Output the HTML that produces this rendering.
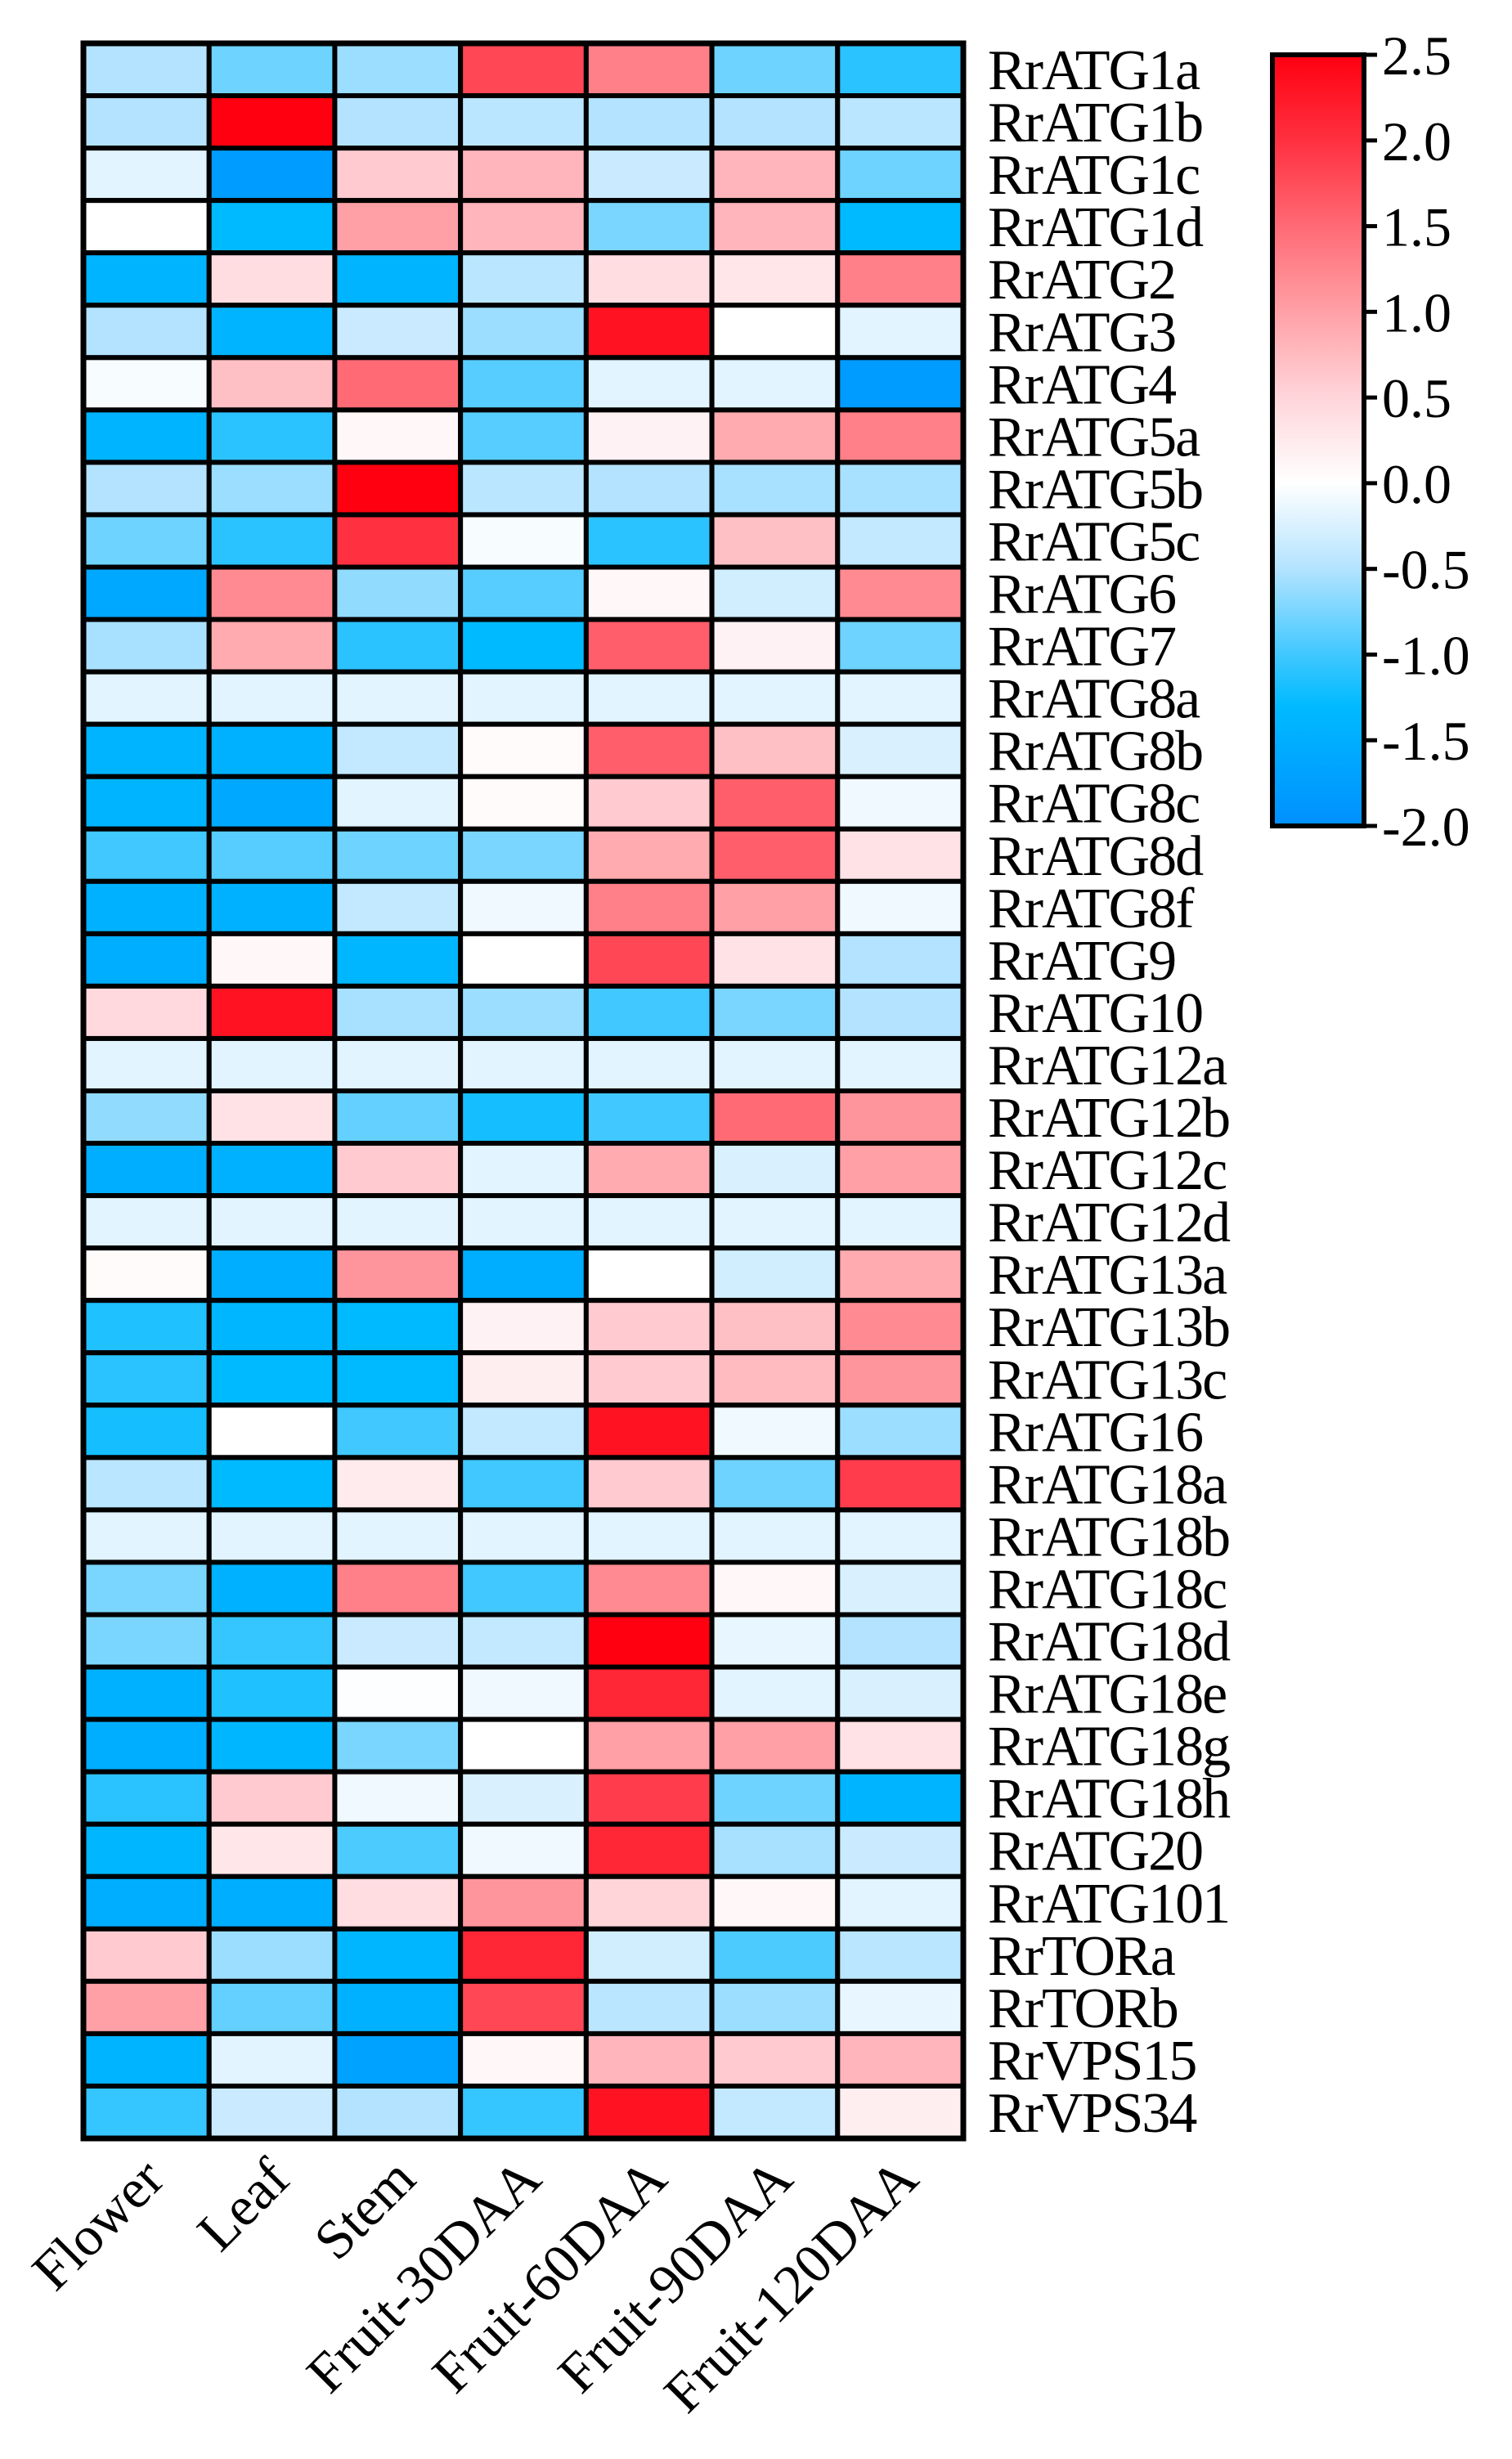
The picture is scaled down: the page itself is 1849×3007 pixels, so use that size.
<!DOCTYPE html>
<html><head><meta charset="utf-8"><style>
html,body{margin:0;padding:0;background:#fff;}
svg{display:block;font-family:"Liberation Serif",serif;}
</style></head><body>
<svg id="chart" width="1849" height="3007" viewBox="0 0 1849 3007" xmlns="http://www.w3.org/2000/svg">
<defs>
<linearGradient id="cbgrad" x1="0" y1="1" x2="0" y2="0"></linearGradient>
</defs>
<g id="cells"></g>
<g id="rowlabels"></g>
<g id="collabels"></g>
<g id="colorbar"></g>
</svg>
<script>
const genes = ["RrATG1a","RrATG1b","RrATG1c","RrATG1d","RrATG2","RrATG3","RrATG4","RrATG5a","RrATG5b","RrATG5c","RrATG6","RrATG7","RrATG8a","RrATG8b","RrATG8c","RrATG8d","RrATG8f","RrATG9","RrATG10","RrATG12a","RrATG12b","RrATG12c","RrATG12d","RrATG13a","RrATG13b","RrATG13c","RrATG16","RrATG18a","RrATG18b","RrATG18c","RrATG18d","RrATG18e","RrATG18g","RrATG18h","RrATG20","RrATG101","RrTORa","RrTORb","RrVPS15","RrVPS34"];
const tissues = ["Flower","Leaf","Stem","Fruit-30DAA","Fruit-60DAA","Fruit-90DAA","Fruit-120DAA"];
const values = [
[-0.5,-0.8,-0.6,1.8,1.3,-0.8,-1.1],
[-0.5,2.5,-0.5,-0.45,-0.5,-0.5,-0.45],
[-0.2,-1.8,0.6,0.8,-0.35,0.8,-0.8],
[0,-1.3,1.0,0.8,-0.75,0.8,-1.3],
[-1.4,0.4,-1.4,-0.45,0.4,0.3,1.3],
[-0.5,-1.4,-0.35,-0.6,2.3,0,-0.2],
[-0.05,0.7,1.5,-0.9,-0.2,-0.2,-1.8],
[-1.4,-1.1,0.1,-0.9,0.15,0.9,1.3],
[-0.5,-0.6,2.5,-0.45,-0.5,-0.55,-0.55],
[-0.8,-1.1,2.0,-0.05,-1.1,0.7,-0.4],
[-1.6,1.2,-0.65,-0.9,0.1,-0.3,1.2],
[-0.55,0.9,-1.1,-1.3,1.6,0.15,-0.8],
[-0.2,-0.2,-0.2,-0.2,-0.2,-0.2,-0.2],
[-1.4,-1.45,-0.4,0.05,1.6,0.7,-0.25],
[-1.4,-1.6,-0.2,0.05,0.6,1.6,-0.1],
[-1.0,-0.9,-0.8,-0.75,0.9,1.6,0.35],
[-1.45,-1.45,-0.4,-0.1,1.3,1.0,-0.1],
[-1.5,0.1,-1.35,0,1.8,0.35,-0.5],
[0.45,2.3,-0.55,-0.6,-1.0,-0.75,-0.5],
[-0.2,-0.2,-0.2,-0.2,-0.2,-0.2,-0.2],
[-0.65,0.35,-0.85,-1.2,-1.0,1.5,1.1],
[-1.5,-1.45,0.6,-0.2,0.9,-0.25,1.0],
[-0.2,-0.2,-0.2,-0.2,-0.2,-0.2,-0.2],
[0.05,-1.5,1.1,-1.5,0,-0.3,0.9],
[-1.15,-1.35,-1.3,0.15,0.6,0.7,1.2],
[-1.1,-1.3,-1.3,0.2,0.6,0.75,1.1],
[-1.2,0,-1.0,-0.4,2.3,-0.1,-0.6],
[-0.45,-1.3,0.25,-1.0,0.6,-0.8,1.9],
[-0.2,-0.2,-0.2,-0.2,-0.2,-0.2,-0.2],
[-0.75,-1.45,1.3,-1.0,1.2,0.1,-0.25],
[-0.75,-1.05,-0.35,-0.4,2.5,-0.15,-0.5],
[-1.45,-1.15,-0.02,-0.1,2.1,-0.2,-0.25],
[-1.5,-1.35,-0.75,0,1.0,1.0,0.35],
[-1.1,0.6,-0.1,-0.25,1.9,-0.8,-1.4],
[-1.35,0.3,-0.95,-0.1,2.1,-0.55,-0.35],
[-1.5,-1.5,0.4,1.1,0.5,0.1,-0.2],
[0.6,-0.6,-1.35,2.1,-0.3,-0.95,-0.45],
[1.0,-0.85,-1.45,1.8,-0.45,-0.6,-0.15],
[-1.4,-0.2,-1.7,0.1,0.8,0.6,0.8],
[-1.05,-0.35,-0.5,-1.05,2.3,-0.4,0.2]
];
const cbTicks = [2.5,2.0,1.5,1.0,0.5,0.0,-0.5,-1.0,-1.5,-2.0];
const colorStops = [[-2.0,[0,144,255]],[-1.3,[0,186,255]],[-1.0,[64,200,255]],[-0.5,[179,227,255]],[0,[255,255,255]],[0.5,[255,213,218]],[1.0,[255,160,166]],[1.5,[255,106,117]],[2.0,[255,48,64]],[2.5,[255,0,16]]];

const NS="http://www.w3.org/2000/svg";
const gx0=102,gx1=1178,gy0=53,gy1=2615;
const cw=(gx1-gx0)/tissues.length, rh=(gy1-gy0)/genes.length;
const xPos=i=>gx0+i*cw, yPos=j=>gy0+j*rh;
const cbTop=67,cbBot=1010,cbMax=2.5,cbMin=-2.0;
const cbY=v=>cbTop+(cbMax-v)/(cbMax-cbMin)*(cbBot-cbTop);
function color(v){
  v=Math.max(cbMin,Math.min(cbMax,v));
  for(let k=0;k<colorStops.length-1;k++){
    const [a,ca]=colorStops[k],[b,cb]=colorStops[k+1];
    if(v>=a&&v<=b){const t=(v-a)/(b-a);return "rgb("+ca.map((c,i)=>Math.round(c+(cb[i]-c)*t)).join(",")+")";}
  }
  return "#fff";
}
function mk(tag,attrs,parent){const e=document.createElementNS(NS,tag);for(const k in attrs)e.setAttribute(k,attrs[k]);parent.appendChild(e);return e;}
const cells=document.getElementById('cells');
values.forEach((row,j)=>row.forEach((v,i)=>{
  const r=mk('rect',{x:xPos(i),y:yPos(j),width:cw,height:rh,fill:color(v),stroke:'#000','stroke-width':6},cells);
  
  
}));
mk('rect',{x:gx0,y:gy0,width:gx1-gx0,height:gy1-gy0,fill:'none',stroke:'#000','stroke-width':7},cells);
const rl=document.getElementById('rowlabels');
genes.forEach((g,j)=>{
  const t=mk('text',{x:1208,y:yPos(j)+rh/2+24,'font-size':70,fill:'#000',transform:'',style:'letter-spacing:-2px'},rl);
  t.textContent=g;
  
  
});
const cl=document.getElementById('collabels');
tissues.forEach((c,i)=>{
  const x=xPos(i)+cw/2+25, y=2668;
  const t=mk('text',{x:x,y:y,'font-size':68,'text-anchor':'end',fill:'#000',transform:'rotate(-45 '+x+' '+y+')'},cl);
  t.textContent=c;
  
  
});
const grad=document.getElementById('cbgrad');
colorStops.forEach(([v,c])=>{mk('stop',{offset:((v-cbMin)/(cbMax-cbMin)),'stop-color':'rgb('+c.join(',')+')'},grad);});
const cbg=document.getElementById('colorbar');
const cbr=mk('rect',{x:1556,y:cbTop,width:112,height:cbBot-cbTop,fill:'url(#cbgrad)',stroke:'#000','stroke-width':6},cbg);


cbTicks.forEach(v=>{
  const y=cbY(v);
  const l=mk('line',{x1:1668,x2:1684,y1:y,y2:y,stroke:'#000','stroke-width':5},cbg);
  
  
  const t=mk('text',{x:1690,y:y+24,'font-size':68,fill:'#000'},cbg);
  t.textContent=v.toFixed(1);
  
  
});
</script>
</body></html>
